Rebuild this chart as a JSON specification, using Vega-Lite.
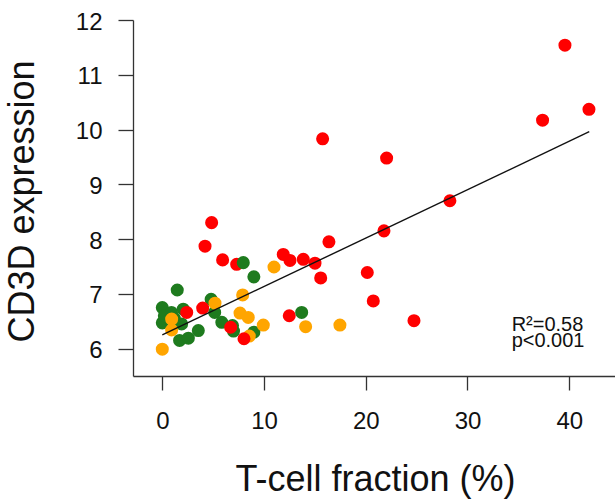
{
  "$schema": "https://vega.github.io/schema/vega-lite/v6.json",
  "width": 482,
  "height": 356,
  "autosize": "none",
  "padding": {"left": 133, "top": 20, "right": 0, "bottom": 123},
  "background": "white",
  "config": {"view": {"stroke": null}, "font": "Liberation Sans"},
  "layer": [
    {
      "data": {"values": [
        {"x": 0.0, "y": 6.75, "group": "C"},
        {"x": 0.0, "y": 6.47, "group": "C"},
        {"x": 0.2, "y": 6.6, "group": "C"},
        {"x": 0.9, "y": 6.66, "group": "C"},
        {"x": 1.2, "y": 6.55, "group": "C"},
        {"x": 2.06, "y": 6.72, "group": "C"},
        {"x": 1.47, "y": 7.07, "group": "C"},
        {"x": 1.9, "y": 6.45, "group": "C"},
        {"x": 1.7, "y": 6.15, "group": "C"},
        {"x": 2.56, "y": 6.19, "group": "C"},
        {"x": 3.54, "y": 6.33, "group": "C"},
        {"x": 4.8, "y": 6.9, "group": "C"},
        {"x": 5.15, "y": 6.66, "group": "C"},
        {"x": 5.85, "y": 6.48, "group": "C"},
        {"x": 6.9, "y": 6.42, "group": "C"},
        {"x": 7.0, "y": 6.32, "group": "C"},
        {"x": 9.0, "y": 7.31, "group": "C"},
        {"x": 9.0, "y": 6.3, "group": "C"},
        {"x": 0.0, "y": 5.99, "group": "B"},
        {"x": 10.98, "y": 7.49, "group": "B"},
        {"x": 7.9, "y": 6.98, "group": "B"},
        {"x": 5.18, "y": 6.83, "group": "B"},
        {"x": 7.64, "y": 6.65, "group": "B"},
        {"x": 8.45, "y": 6.57, "group": "B"},
        {"x": 9.93, "y": 6.43, "group": "B"},
        {"x": 14.09, "y": 6.4, "group": "B"},
        {"x": 17.46, "y": 6.43, "group": "B"},
        {"x": 0.92, "y": 6.54, "group": "B"},
        {"x": 0.92, "y": 6.34, "group": "B"},
        {"x": 8.55, "y": 6.23, "group": "B"},
        {"x": 39.58, "y": 11.54, "group": "A"},
        {"x": 41.94, "y": 10.37, "group": "A"},
        {"x": 37.38, "y": 10.17, "group": "A"},
        {"x": 15.76, "y": 9.83, "group": "A"},
        {"x": 22.05, "y": 9.48, "group": "A"},
        {"x": 28.27, "y": 8.7, "group": "A"},
        {"x": 21.79, "y": 8.15, "group": "A"},
        {"x": 16.38, "y": 7.95, "group": "A"},
        {"x": 4.85, "y": 8.3, "group": "A"},
        {"x": 4.2, "y": 7.87, "group": "A"},
        {"x": 5.93, "y": 7.62, "group": "A"},
        {"x": 7.31, "y": 7.54, "group": "A"},
        {"x": 11.89, "y": 7.72, "group": "A"},
        {"x": 12.55, "y": 7.61, "group": "A"},
        {"x": 13.86, "y": 7.63, "group": "A"},
        {"x": 15.01, "y": 7.56, "group": "A"},
        {"x": 15.57, "y": 7.29, "group": "A"},
        {"x": 20.15, "y": 7.39, "group": "A"},
        {"x": 20.74, "y": 6.87, "group": "A"},
        {"x": 24.74, "y": 6.51, "group": "A"},
        {"x": 12.48, "y": 6.6, "group": "A"},
        {"x": 3.97, "y": 6.74, "group": "A"},
        {"x": 2.4, "y": 6.66, "group": "A"},
        {"x": 6.72, "y": 6.39, "group": "A"},
        {"x": 8.03, "y": 6.18, "group": "A"},
        {"x": 7.96, "y": 7.57, "group": "C"},
        {"x": 13.7, "y": 6.66, "group": "C"}
      ]},
      "mark": {"type": "circle", "size": 170, "opacity": 1},
      "encoding": {
        "x": {
          "field": "x", "type": "quantitative",
          "scale": {"domain": [-2.88, 44.5], "nice": false, "zero": false},
          "axis": {
            "values": [0, 10, 20, 30, 40], "grid": false,
            "title": "T-cell fraction (%)",
            "domainColor": "#333", "domainWidth": 1.3,
            "tickColor": "#333", "tickWidth": 1.3, "tickSize": 14,
            "labelFontSize": 24, "labelColor": "#111", "labelPadding": 38,
            "labelBaseline": "alphabetic",
            "titleFontSize": 36, "titleFontWeight": "normal", "titleColor": "#111",
            "titleX": 242, "titleY": 114, "titleBaseline": "alphabetic", "titleAlign": "center"
          }
        },
        "y": {
          "field": "y", "type": "quantitative",
          "scale": {"domain": [5.5, 12], "nice": false, "zero": false},
          "axis": {
            "values": [6, 7, 8, 9, 10, 11, 12], "grid": false,
            "title": "CD3D expression",
            "domainColor": "#333", "domainWidth": 1.3,
            "tickColor": "#333", "tickWidth": 1.3, "tickSize": 15,
            "labelFontSize": 24, "labelColor": "#111", "labelPadding": 16, "labelOffset": 2,
            "titleFontSize": 36, "titleFontWeight": "normal", "titleColor": "#111",
            "titleX": -100, "titleY": 181, "titleAngle": 270, "titleBaseline": "alphabetic", "titleAlign": "center"
          }
        },
        "color": {
          "field": "group", "type": "nominal",
          "scale": {"domain": ["A", "B", "C"], "range": ["#FF0000", "#FFA500", "#1E7B1E"]},
          "legend": null
        }
      }
    },
    {
      "data": {"values": [{"x": 0, "y": 6.25}, {"x": 41.97, "y": 9.96}]},
      "mark": {"type": "line", "color": "#111", "strokeWidth": 1.4},
      "encoding": {
        "x": {"field": "x", "type": "quantitative"},
        "y": {"field": "y", "type": "quantitative"}
      }
    },
    {
      "data": {"values": [
        {"x": 34.34, "y": 6.62, "label": "R²=0.58\np<0.001"}
      ]},
      "mark": {"type": "text", "align": "left", "baseline": "top", "fontSize": 20, "lineHeight": 16, "lineBreak": "\n", "color": "#111"},
      "encoding": {
        "x": {"field": "x", "type": "quantitative"},
        "y": {"field": "y", "type": "quantitative"},
        "text": {"field": "label"}
      }
    }
  ]
}
